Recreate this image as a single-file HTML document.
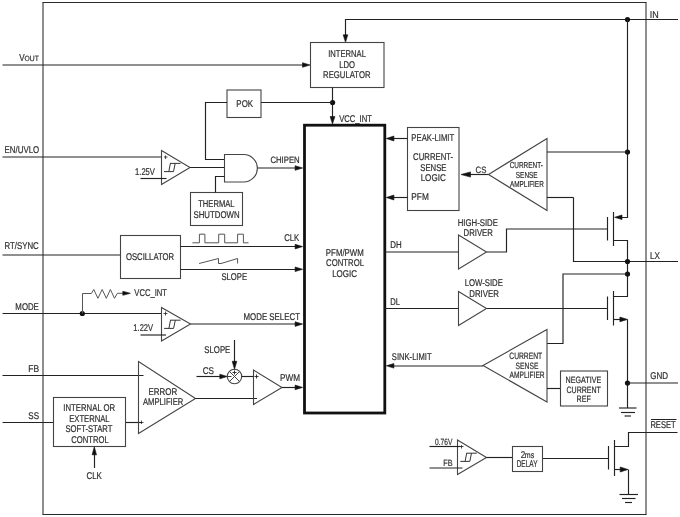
<!DOCTYPE html>
<html><head><meta charset="utf-8"><style>
html,body{margin:0;padding:0;background:#fff;width:680px;height:517px;overflow:hidden}
svg{display:block;filter:grayscale(1)}
text{font-family:"Liberation Sans",sans-serif;text-rendering:geometricPrecision}
</style></head><body>
<svg width="680" height="517" viewBox="0 0 680 517">
<path d="M42.5,2.5 L646.5,2.5" fill="none" stroke="#2a2a2a" stroke-width="1.05"/>
<path d="M42.5,514.5 L646.5,514.5" fill="none" stroke="#2a2a2a" stroke-width="1.05"/>
<path d="M43.0,2.5 L43.0,514.5" fill="none" stroke="#2a2a2a" stroke-width="1.05"/>
<path d="M646.0,2.5 L646.0,514.5" fill="none" stroke="#2a2a2a" stroke-width="1.05"/>
<path d="M2.5,65.0 L303.0,65.0" fill="none" stroke="#222" stroke-width="1.15"/>
<path d="M310.00,65.00 L302.50,62.70 L302.50,67.30Z" fill="#111" stroke="#111" stroke-width="0.6" stroke-linejoin="round"/>
<path d="M2.5,157.0 L161.5,157.0" fill="none" stroke="#222" stroke-width="1.15"/>
<path d="M2.5,255.0 L120.5,255.0" fill="none" stroke="#222" stroke-width="1.15"/>
<path d="M2.5,313.5 L161.5,313.5" fill="none" stroke="#222" stroke-width="1.15"/>
<path d="M2.5,375.5 L143.5,375.5" fill="none" stroke="#222" stroke-width="1.15"/>
<path d="M2.5,422.5 L53.5,422.5" fill="none" stroke="#222" stroke-width="1.15"/>
<path d="M125.5,422.5 L141.0,422.5" fill="none" stroke="#222" stroke-width="1.15"/>
<path d="M678.0,19.5 L345.5,19.5 L345.5,36.0" fill="none" stroke="#222" stroke-width="1.15"/>
<path d="M345.50,42.30 L343.20,34.80 L347.80,34.80Z" fill="#111" stroke="#111" stroke-width="0.6" stroke-linejoin="round"/>
<circle cx="627.5" cy="19.5" r="2.6" fill="#111"/>
<path d="M627.5,19.5 L627.5,217.5 L618.0,217.5" fill="none" stroke="#222" stroke-width="1.15"/>
<path d="M614.60,217.30 L622.00,215.00 L622.00,219.60Z" fill="#111" stroke="#111" stroke-width="0.6" stroke-linejoin="round"/>
<circle cx="627.5" cy="152.0" r="2.6" fill="#111"/>
<path d="M573.5,197.5 L573.5,261.5 L678.0,261.5" fill="none" stroke="#222" stroke-width="1.15"/>
<path d="M613.5,240.5 L627.5,240.5 L627.5,296.5 L613.5,296.5" fill="none" stroke="#222" stroke-width="1.15"/>
<circle cx="627.5" cy="261.5" r="2.6" fill="#111"/>
<circle cx="627.5" cy="274.0" r="2.6" fill="#111"/>
<path d="M627.5,274.0 L563.0,274.0 L563.0,343.5 L547.0,343.5" fill="none" stroke="#222" stroke-width="1.15"/>
<path d="M613.5,319.5 L620.0,319.5" fill="none" stroke="#222" stroke-width="1.15"/>
<path d="M627.60,319.40 L619.90,317.10 L619.90,321.70Z" fill="#111" stroke="#111" stroke-width="0.6" stroke-linejoin="round"/>
<path d="M627.5,319.5 L627.5,408.0" fill="none" stroke="#222" stroke-width="1.15"/>
<circle cx="627.5" cy="383.0" r="2.6" fill="#111"/>
<path d="M627.5,383.0 L678.0,383.0" fill="none" stroke="#222" stroke-width="1.15"/>
<path d="M619.0,408.0 L636.5,408.0" fill="none" stroke="#222" stroke-width="1.15"/>
<path d="M621.0,412.5 L635.0,412.5" fill="none" stroke="#222" stroke-width="1.15"/>
<path d="M624.5,416.0 L631.0,416.0" fill="none" stroke="#222" stroke-width="1.15"/>
<path d="M677.5,432.5 L628.5,432.5 L628.5,446.5 L614.5,446.5" fill="none" stroke="#222" stroke-width="1.15"/>
<path d="M614.5,469.5 L620.5,469.5" fill="none" stroke="#222" stroke-width="1.15"/>
<path d="M628.00,469.50 L620.20,467.00 L620.20,472.00Z" fill="#111" stroke="#111" stroke-width="0.6" stroke-linejoin="round"/>
<path d="M628.5,469.5 L628.5,494.5" fill="none" stroke="#222" stroke-width="1.15"/>
<path d="M619.5,494.5 L638.0,494.5" fill="none" stroke="#222" stroke-width="1.15"/>
<path d="M622.0,498.5 L635.5,498.5" fill="none" stroke="#222" stroke-width="1.15"/>
<path d="M625.0,502.5 L632.0,502.5" fill="none" stroke="#222" stroke-width="1.15"/>
<path d="M607.5,217.0 L607.5,240.5" fill="none" stroke="#222" stroke-width="1.15"/>
<path d="M613.5,212.0 L613.5,246.0" fill="none" stroke="#222" stroke-width="1.15"/>
<path d="M607.5,296.5 L607.5,320.0" fill="none" stroke="#222" stroke-width="1.15"/>
<path d="M613.5,291.0 L613.5,325.5" fill="none" stroke="#222" stroke-width="1.15"/>
<path d="M608.5,446.0 L608.5,469.5" fill="none" stroke="#222" stroke-width="1.15"/>
<path d="M614.5,440.0 L614.5,476.0" fill="none" stroke="#222" stroke-width="1.15"/>
<path d="M486.5,252.0 L506.5,252.0 L506.5,229.0 L607.5,229.0" fill="none" stroke="#222" stroke-width="1.15"/>
<path d="M486.5,308.5 L607.5,308.5" fill="none" stroke="#222" stroke-width="1.15"/>
<path d="M542.5,458.5 L608.5,458.5" fill="none" stroke="#222" stroke-width="1.15"/>
<rect x="310.5" y="42.5" width="73.50" height="45.00" fill="none" stroke="#444" stroke-width="1.1"/>
<path d="M332.5,87.5 L332.5,118.0" fill="none" stroke="#222" stroke-width="1.15"/>
<path d="M332.50,124.00 L330.10,116.50 L334.90,116.50Z" fill="#111" stroke="#111" stroke-width="0.6" stroke-linejoin="round"/>
<circle cx="332.6" cy="102.5" r="2.6" fill="#111"/>
<path d="M332.5,102.5 L261.0,102.5" fill="none" stroke="#222" stroke-width="1.15"/>
<rect x="227.0" y="90.0" width="34.00" height="27.50" fill="none" stroke="#444" stroke-width="1.1"/>
<path d="M227.0,102.5 L205.5,102.5 L205.5,159.5 L224.5,159.5" fill="none" stroke="#222" stroke-width="1.15"/>
<path d="M161.5,150.5 L161.5,184.5 L190.0,167.5Z" fill="none" stroke="#444" stroke-width="1.1"/>
<path d="M190.0,167.5 L224.5,167.5" fill="none" stroke="#222" stroke-width="1.15"/>
<path d="M140.5,178.5 L166.5,178.5" fill="none" stroke="#222" stroke-width="1.15"/>
<path d="M224.5,154.5 H243.6 A13.75,13.75 0 0 1 243.6,182 H224.5 Z" fill="none" stroke="#444" stroke-width="1.1"/>
<rect x="190.5" y="192.5" width="52.00" height="33.00" fill="none" stroke="#444" stroke-width="1.1"/>
<path d="M215.5,192.5 L215.5,176.5 L224.5,176.5" fill="none" stroke="#222" stroke-width="1.15"/>
<path d="M257.5,168.0 L296.0,168.0" fill="none" stroke="#222" stroke-width="1.15"/>
<path d="M302.60,168.00 L295.10,165.70 L295.10,170.30Z" fill="#111" stroke="#111" stroke-width="0.6" stroke-linejoin="round"/>
<rect x="304.5" y="125.2" width="80.3" height="287.8" fill="none" stroke="#111" stroke-width="2.8"/>
<rect x="120.5" y="235.5" width="60.00" height="43.00" fill="none" stroke="#444" stroke-width="1.1"/>
<path d="M180.5,246.5 L296.0,246.5" fill="none" stroke="#222" stroke-width="1.15"/>
<path d="M302.60,246.60 L295.10,244.30 L295.10,248.90Z" fill="#111" stroke="#111" stroke-width="0.6" stroke-linejoin="round"/>
<path d="M180.5,269.5 L296.0,269.5" fill="none" stroke="#222" stroke-width="1.15"/>
<path d="M302.60,269.30 L295.10,267.00 L295.10,271.60Z" fill="#111" stroke="#111" stroke-width="0.6" stroke-linejoin="round"/>
<path d="M192.4,242.8 H199.4 V234.2 H204.9 V242.8 H218.7 V234.2 H224.7 V242.8 H237.6 V234.2 H243.4 V242.8 H248.5" fill="none" stroke="#555" stroke-width="1"/>
<path d="M199.1,263.5 L218.5,258.5 V263.5 H221 L237.6,258.5 V263.5" fill="none" stroke="#555" stroke-width="1"/>
<rect x="407.5" y="127.5" width="51.50" height="83.00" fill="none" stroke="#444" stroke-width="1.1"/>
<path d="M407.5,138.5 L393.0,138.5" fill="none" stroke="#222" stroke-width="1.15"/>
<path d="M386.30,138.50 L393.90,136.00 L393.90,141.00Z" fill="#111" stroke="#111" stroke-width="0.6" stroke-linejoin="round"/>
<path d="M407.5,197.5 L393.0,197.5" fill="none" stroke="#222" stroke-width="1.15"/>
<path d="M386.30,197.50 L393.90,195.00 L393.90,200.00Z" fill="#111" stroke="#111" stroke-width="0.6" stroke-linejoin="round"/>
<path d="M488.5,174.5 L470.0,174.5" fill="none" stroke="#222" stroke-width="1.15"/>
<path d="M461.00,174.50 L470.50,171.90 L470.50,177.10Z" fill="#111" stroke="#111" stroke-width="0.6" stroke-linejoin="round"/>
<path d="M488.5,174.5 L547.0,138.5 L547.0,210.5Z" fill="none" stroke="#444" stroke-width="1.1"/>
<path d="M547.0,152.0 L627.5,152.0" fill="none" stroke="#222" stroke-width="1.15"/>
<path d="M547.0,197.5 L573.5,197.5" fill="none" stroke="#222" stroke-width="1.15"/>
<path d="M458.5,235.0 L458.5,269.0 L486.5,252.0Z" fill="none" stroke="#444" stroke-width="1.1"/>
<path d="M384.5,252.0 L458.5,252.0" fill="none" stroke="#222" stroke-width="1.15"/>
<path d="M458.5,291.5 L458.5,325.5 L486.5,308.5Z" fill="none" stroke="#444" stroke-width="1.1"/>
<path d="M384.5,308.5 L458.5,308.5" fill="none" stroke="#222" stroke-width="1.15"/>
<path d="M483.0,365.5 L547.0,329.5 L547.0,402.0Z" fill="none" stroke="#444" stroke-width="1.1"/>
<path d="M483.0,366.0 L393.0,366.0" fill="none" stroke="#222" stroke-width="1.15"/>
<path d="M386.40,365.80 L393.90,363.50 L393.90,368.10Z" fill="#111" stroke="#111" stroke-width="0.6" stroke-linejoin="round"/>
<path d="M547.0,388.5 L560.5,388.5" fill="none" stroke="#222" stroke-width="1.15"/>
<rect x="560.5" y="371.0" width="47.00" height="35.00" fill="none" stroke="#444" stroke-width="1.1"/>
<path d="M161.5,307.5 L161.5,341.0 L190.5,324.0Z" fill="none" stroke="#444" stroke-width="1.1"/>
<path d="M190.5,324.0 L296.0,324.0" fill="none" stroke="#222" stroke-width="1.15"/>
<path d="M302.60,324.10 L295.10,321.80 L295.10,326.40Z" fill="#111" stroke="#111" stroke-width="0.6" stroke-linejoin="round"/>
<path d="M140.5,335.0 L166.0,335.0" fill="none" stroke="#222" stroke-width="1.15"/>
<circle cx="82.3" cy="313.5" r="2.6" fill="#111"/>
<path d="M82.5,313.5 V293.5 H91.4 L93.8,289.5 L97.9,298.3 L102.2,289.5 L106.3,298.3 L110.4,289.5 L114.5,298.3 L117.4,293.3 H123" fill="none" stroke="#555" stroke-width="1"/>
<path d="M130.40,293.30 L122.80,291.30 L122.80,295.30Z" fill="#111" stroke="#111" stroke-width="0.6" stroke-linejoin="round"/>
<path d="M138.5,361.5 L138.5,433.5 L195.5,398.5Z" fill="none" stroke="#444" stroke-width="1.1"/>
<path d="M195.5,398.5 L257.0,398.5" fill="none" stroke="#222" stroke-width="1.15"/>
<path d="M253.5,370.0 L253.5,404.5 L282.0,387.5Z" fill="none" stroke="#444" stroke-width="1.1"/>
<path d="M282.0,387.5 L296.0,387.5" fill="none" stroke="#222" stroke-width="1.15"/>
<path d="M302.60,387.40 L295.10,385.10 L295.10,389.70Z" fill="#111" stroke="#111" stroke-width="0.6" stroke-linejoin="round"/>
<circle cx="234.5" cy="376.5" r="7.2" fill="none" stroke="#444" stroke-width="1.1"/>
<path d="M229.5,371.5 L239.5,381.5 M239.5,371.5 L229.5,381.5" stroke="#444" stroke-width="1"/>
<path d="M234.5,340.0 L234.5,362.0" fill="none" stroke="#222" stroke-width="1.15"/>
<path d="M234.50,369.30 L232.20,361.30 L236.80,361.30Z" fill="#111" stroke="#111" stroke-width="0.6" stroke-linejoin="round"/>
<path d="M196.5,376.5 L220.0,376.5" fill="none" stroke="#222" stroke-width="1.15"/>
<path d="M227.30,376.50 L219.80,374.20 L219.80,378.80Z" fill="#111" stroke="#111" stroke-width="0.6" stroke-linejoin="round"/>
<path d="M241.5,376.5 L253.5,376.5" fill="none" stroke="#222" stroke-width="1.15"/>
<path d="M228.0,376.5 L231.5,376.5" fill="none" stroke="#222" stroke-width="0.9"/>
<rect x="53.5" y="397.5" width="72.00" height="49.00" fill="none" stroke="#444" stroke-width="1.1"/>
<path d="M94.5,468.0 L94.5,454.0" fill="none" stroke="#222" stroke-width="1.15"/>
<path d="M94.30,446.80 L92.10,454.80 L96.50,454.80Z" fill="#111" stroke="#111" stroke-width="0.6" stroke-linejoin="round"/>
<path d="M457.5,440.0 L457.5,474.5 L486.5,457.5Z" fill="none" stroke="#444" stroke-width="1.1"/>
<path d="M429.5,446.5 L460.5,446.5" fill="none" stroke="#222" stroke-width="1.15"/>
<path d="M429.5,468.0 L462.5,468.0" fill="none" stroke="#222" stroke-width="1.15"/>
<path d="M486.5,457.5 L512.5,457.5" fill="none" stroke="#222" stroke-width="1.15"/>
<rect x="512.5" y="446.5" width="30.00" height="25.00" fill="none" stroke="#444" stroke-width="1.1"/>
<path d="M164.0,171.6 H173.5 M170.0,163.39999999999998 H180.5 M168.8,171.6 L170.4,163.39999999999998 M173.5,171.6 L175.20000000000002,163.39999999999998" fill="none" stroke="#333" stroke-width="1"/>
<path d="M164.1,328.4 H173.6 M170.1,320.2 H180.6 M168.9,328.4 L170.5,320.2 M173.6,328.4 L175.3,320.2" fill="none" stroke="#333" stroke-width="1"/>
<path d="M460.3,461.4 H469.8 M466.3,453.2 H476.8 M465.09999999999997,461.4 L466.7,453.2 M469.8,461.4 L471.5,453.2" fill="none" stroke="#333" stroke-width="1"/>
<text transform="translate(19.26,61.00) scale(0.805,1)" font-size="10" fill="#303030" stroke="#303030" stroke-width="0.22">V</text>
<text transform="translate(24.58,61.00) scale(0.890,1)" font-size="7.6" fill="#303030" stroke="#303030" stroke-width="0.22">OUT</text>
<text transform="translate(4.55,153.00) scale(0.805,1)" font-size="9.8" fill="#303030" stroke="#303030" stroke-width="0.22">EN/UVLO</text>
<text transform="translate(4.56,249.00) scale(0.798,1)" font-size="9.8" fill="#303030" stroke="#303030" stroke-width="0.22">RT/SYNC</text>
<text transform="translate(15.36,310.00) scale(0.799,1)" font-size="9.8" fill="#303030" stroke="#303030" stroke-width="0.22">MODE</text>
<text transform="translate(28.30,372.00) scale(0.866,1)" font-size="9.8" fill="#303030" stroke="#303030" stroke-width="0.22">FB</text>
<text transform="translate(28.33,419.00) scale(0.821,1)" font-size="9.8" fill="#303030" stroke="#303030" stroke-width="0.22">SS</text>
<text transform="translate(649.87,18.00) scale(0.914,1)" font-size="9.8" fill="#303030" stroke="#303030" stroke-width="0.22">IN</text>
<text transform="translate(650.03,259.00) scale(0.829,1)" font-size="9.8" fill="#303030" stroke="#303030" stroke-width="0.22">LX</text>
<text transform="translate(650.20,379.00) scale(0.817,1)" font-size="9.8" fill="#303030" stroke="#303030" stroke-width="0.22">GND</text>
<text transform="translate(650.38,428.00) scale(0.774,1)" font-size="9.8" fill="#303030" stroke="#303030" stroke-width="0.22">RESET</text>
<path d="M651.0,419.5 L676.5,419.5" fill="none" stroke="#222" stroke-width="1.0"/>
<text transform="translate(328.20,57.00) scale(0.779,1)" font-size="9.8" fill="#303030" stroke="#303030" stroke-width="0.22">INTERNAL</text>
<text transform="translate(339.17,68.00) scale(0.784,1)" font-size="9.8" fill="#303030" stroke="#303030" stroke-width="0.22">LDO</text>
<text transform="translate(323.06,78.00) scale(0.790,1)" font-size="9.8" fill="#303030" stroke="#303030" stroke-width="0.22">REGULATOR</text>
<text transform="translate(339.22,122.00) scale(0.779,1)" font-size="9.8" fill="#303030" stroke="#303030" stroke-width="0.22">VCC_INT</text>
<text transform="translate(236.35,107.00) scale(0.809,1)" font-size="9.8" fill="#303030" stroke="#303030" stroke-width="0.22">POK</text>
<text transform="translate(135.02,175.00) scale(0.778,1)" font-size="9.8" fill="#303030" stroke="#303030" stroke-width="0.22">1.25V</text>
<text transform="translate(270.41,163.20) scale(0.844,1)" font-size="9.2" fill="#303030" stroke="#303030" stroke-width="0.22">CHIPEN</text>
<text transform="translate(198.23,207.00) scale(0.776,1)" font-size="9.8" fill="#303030" stroke="#303030" stroke-width="0.22">THERMAL</text>
<text transform="translate(193.44,218.00) scale(0.799,1)" font-size="9.8" fill="#303030" stroke="#303030" stroke-width="0.22">SHUTDOWN</text>
<text transform="translate(125.93,260.00) scale(0.788,1)" font-size="9.8" fill="#303030" stroke="#303030" stroke-width="0.22">OSCILLATOR</text>
<text transform="translate(284.21,241.00) scale(0.791,1)" font-size="9.8" fill="#303030" stroke="#303030" stroke-width="0.22">CLK</text>
<text transform="translate(221.45,280.00) scale(0.783,1)" font-size="9.8" fill="#303030" stroke="#303030" stroke-width="0.22">SLOPE</text>
<text transform="translate(325.86,256.00) scale(0.800,1)" font-size="9.8" fill="#303030" stroke="#303030" stroke-width="0.22">PFM/PWM</text>
<text transform="translate(326.11,266.00) scale(0.791,1)" font-size="9.8" fill="#303030" stroke="#303030" stroke-width="0.22">CONTROL</text>
<text transform="translate(332.14,277.00) scale(0.819,1)" font-size="9.8" fill="#303030" stroke="#303030" stroke-width="0.22">LOGIC</text>
<text transform="translate(411.37,141.00) scale(0.786,1)" font-size="9.8" fill="#303030" stroke="#303030" stroke-width="0.22">PEAK-LIMIT</text>
<text transform="translate(413.11,160.00) scale(0.792,1)" font-size="9.8" fill="#303030" stroke="#303030" stroke-width="0.22">CURRENT-</text>
<text transform="translate(420.25,171.00) scale(0.791,1)" font-size="9.8" fill="#303030" stroke="#303030" stroke-width="0.22">SENSE</text>
<text transform="translate(420.64,181.00) scale(0.822,1)" font-size="9.8" fill="#303030" stroke="#303030" stroke-width="0.22">LOGIC</text>
<text transform="translate(411.32,200.00) scale(0.844,1)" font-size="9.8" fill="#303030" stroke="#303030" stroke-width="0.22">PFM</text>
<text transform="translate(475.50,173.00) scale(0.849,1)" font-size="9.2" fill="#303030" stroke="#303030" stroke-width="0.22">CS</text>
<text transform="translate(509.67,168.00) scale(0.740,1)" font-size="8.7" fill="#303030" stroke="#303030" stroke-width="0.22">CURRENT-</text>
<text transform="translate(515.81,177.60) scale(0.742,1)" font-size="8.7" fill="#303030" stroke="#303030" stroke-width="0.22">SENSE</text>
<text transform="translate(509.99,187.00) scale(0.736,1)" font-size="8.7" fill="#303030" stroke="#303030" stroke-width="0.22">AMPLIFIER</text>
<text transform="translate(457.66,226.00) scale(0.795,1)" font-size="9.8" fill="#303030" stroke="#303030" stroke-width="0.22">HIGH-SIDE</text>
<text transform="translate(463.56,236.00) scale(0.791,1)" font-size="9.8" fill="#303030" stroke="#303030" stroke-width="0.22">DRIVER</text>
<text transform="translate(390.35,248.00) scale(0.805,1)" font-size="9.8" fill="#303030" stroke="#303030" stroke-width="0.22">DH</text>
<text transform="translate(464.66,286.20) scale(0.792,1)" font-size="9.8" fill="#303030" stroke="#303030" stroke-width="0.22">LOW-SIDE</text>
<text transform="translate(469.26,297.00) scale(0.800,1)" font-size="9.8" fill="#303030" stroke="#303030" stroke-width="0.22">DRIVER</text>
<text transform="translate(390.27,305.00) scale(0.781,1)" font-size="9.8" fill="#303030" stroke="#303030" stroke-width="0.22">DL</text>
<text transform="translate(391.85,360.00) scale(0.776,1)" font-size="9.8" fill="#303030" stroke="#303030" stroke-width="0.22">SINK-LIMIT</text>
<text transform="translate(509.26,359.00) scale(0.734,1)" font-size="9.2" fill="#303030" stroke="#303030" stroke-width="0.22">CURRENT</text>
<text transform="translate(515.59,368.70) scale(0.731,1)" font-size="9.2" fill="#303030" stroke="#303030" stroke-width="0.22">SENSE</text>
<text transform="translate(509.59,378.00) scale(0.723,1)" font-size="9.2" fill="#303030" stroke="#303030" stroke-width="0.22">AMPLIFIER</text>
<text transform="translate(565.61,383.00) scale(0.778,1)" font-size="9.2" fill="#303030" stroke="#303030" stroke-width="0.22">NEGATIVE</text>
<text transform="translate(566.54,393.00) scale(0.765,1)" font-size="9.2" fill="#303030" stroke="#303030" stroke-width="0.22">CURRENT</text>
<text transform="translate(576.62,402.00) scale(0.770,1)" font-size="9.2" fill="#303030" stroke="#303030" stroke-width="0.22">REF</text>
<text transform="translate(134.37,296.00) scale(0.778,1)" font-size="9.8" fill="#303030" stroke="#303030" stroke-width="0.22">VCC_INT</text>
<text transform="translate(133.32,331.00) scale(0.772,1)" font-size="9.8" fill="#303030" stroke="#303030" stroke-width="0.22">1.22V</text>
<text transform="translate(243.55,320.00) scale(0.803,1)" font-size="9.8" fill="#303030" stroke="#303030" stroke-width="0.22">MODE SELECT</text>
<text transform="translate(204.24,353.00) scale(0.798,1)" font-size="9.8" fill="#303030" stroke="#303030" stroke-width="0.22">SLOPE</text>
<text transform="translate(202.69,374.00) scale(0.829,1)" font-size="9.8" fill="#303030" stroke="#303030" stroke-width="0.22">CS</text>
<text transform="translate(280.03,381.00) scale(0.833,1)" font-size="9.8" fill="#303030" stroke="#303030" stroke-width="0.22">PWM</text>
<text transform="translate(148.45,394.60) scale(0.814,1)" font-size="9.8" fill="#303030" stroke="#303030" stroke-width="0.22">ERROR</text>
<text transform="translate(142.99,405.00) scale(0.780,1)" font-size="9.8" fill="#303030" stroke="#303030" stroke-width="0.22">AMPLIFIER</text>
<text transform="translate(63.28,411.00) scale(0.793,1)" font-size="9.8" fill="#303030" stroke="#303030" stroke-width="0.22">INTERNAL OR</text>
<text transform="translate(69.17,422.00) scale(0.782,1)" font-size="9.8" fill="#303030" stroke="#303030" stroke-width="0.22">EXTERNAL</text>
<text transform="translate(65.45,432.00) scale(0.782,1)" font-size="9.8" fill="#303030" stroke="#303030" stroke-width="0.22">SOFT-START</text>
<text transform="translate(71.21,442.80) scale(0.784,1)" font-size="9.8" fill="#303030" stroke="#303030" stroke-width="0.22">CONTROL</text>
<text transform="translate(86.50,479.00) scale(0.807,1)" font-size="9.8" fill="#303030" stroke="#303030" stroke-width="0.22">CLK</text>
<text transform="translate(435.04,444.70) scale(0.735,1)" font-size="9.0" fill="#303030" stroke="#303030" stroke-width="0.22">0.76V</text>
<text transform="translate(443.30,465.50) scale(0.817,1)" font-size="9.0" fill="#303030" stroke="#303030" stroke-width="0.22">FB</text>
<text transform="translate(520.79,458.00) scale(0.829,1)" font-size="9.8" fill="#303030" stroke="#303030" stroke-width="0.22">2</text>
<text transform="translate(524.83,458.00) scale(0.813,1)" font-size="8.7" fill="#303030" stroke="#303030" stroke-width="0.22">ms</text>
<text transform="translate(516.67,467.00) scale(0.662,1)" font-size="9.8" fill="#303030" stroke="#303030" stroke-width="0.22">DELAY</text>
<path d="M164.0,157.0 L167.5,157.0" fill="none" stroke="#222" stroke-width="0.8"/>
<path d="M165.5,155.5 L165.5,159.0" fill="none" stroke="#222" stroke-width="0.8"/>
<path d="M163.5,313.5 L167.5,313.5" fill="none" stroke="#222" stroke-width="0.8"/>
<path d="M165.5,311.5 L165.5,315.5" fill="none" stroke="#222" stroke-width="0.8"/>
<path d="M460.0,446.5 L463.5,446.5" fill="none" stroke="#222" stroke-width="0.8"/>
<path d="M461.5,445.0 L461.5,448.5" fill="none" stroke="#222" stroke-width="0.8"/>
<path d="M139.5,422.5 L143.5,422.5" fill="none" stroke="#222" stroke-width="0.8"/>
<path d="M141.5,420.5 L141.5,424.0" fill="none" stroke="#222" stroke-width="0.8"/>
<path d="M254.5,376.5 L258.5,376.5" fill="none" stroke="#222" stroke-width="0.9"/>
<path d="M256.5,374.5 L256.5,378.5" fill="none" stroke="#222" stroke-width="0.9"/>
<path d="M232.5,372.5 L236.5,372.5" fill="none" stroke="#222" stroke-width="0.9"/>
<path d="M234.5,370.5 L234.5,374.5" fill="none" stroke="#222" stroke-width="0.9"/>
</svg>
</body></html>
